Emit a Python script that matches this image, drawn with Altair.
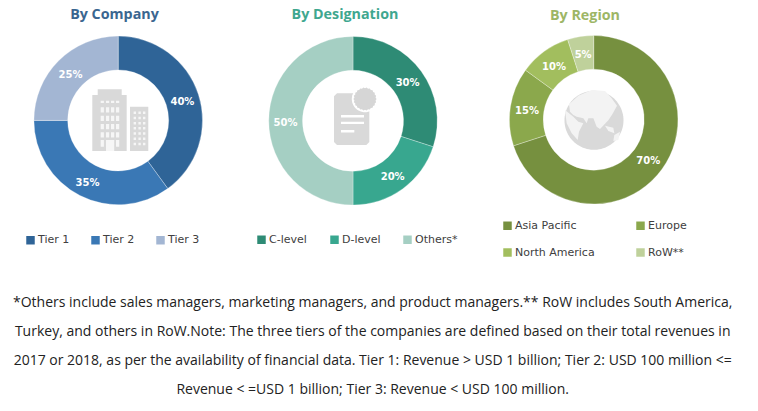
import math
import altair as alt
import pandas as pd

company_cat = ["Tier 1", "Tier 2", "Tier 3"]
company_val = [40, 35, 25]
company_col = ["#2F6497", "#3A78B5", "#A3B6D3"]
desig_cat = ["C-level", "D-level", "Others*"]
desig_val = [30, 20, 50]
desig_col = ["#2E8B75", "#38A78F", "#A5CFC3"]
region_cat = ["Asia Pacific", "Europe", "North America", "RoW**"]
region_val = [70, 15, 10, 5]
region_col = ["#76903F", "#8BA84C", "#A2BE5E", "#BFD19B"]
footer = [
    "*Others include sales managers, marketing managers, and product managers.** RoW includes South America,",
    "Turkey, and others in RoW.Note: The three tiers of the companies are defined based on their total revenues in",
    "2017 or 2018, as per the availability of financial data. Tier 1: Revenue > USD 1 billion; Tier 2: USD 100 million <=",
    "Revenue < =USD 1 billion; Tier 3: Revenue < USD 100 million.",
]
footer_y = [303, 332, 361, 390]
OX, OY = 8, 8
W, H = 742, 395


def donut(cats, vals, cols, cx, cy, lx, ly, columns, colpad, rowpad):
    df = pd.DataFrame({"c": cats, "v": vals, "o": range(len(cats)), "t": [f"{v}%" for v in vals]})
    base = alt.Chart(df).encode(
        x=alt.value(cx - OX), y=alt.value(cy - OY),
        theta=alt.Theta("v:Q", stack=True, scale=alt.Scale(domain=[0, 100], range=[0, 6.283185307])),
        order=alt.Order("o:Q"),
    )
    arc = base.mark_arc(outerRadius=84.3, innerRadius=50.5, stroke="#ffffff", strokeWidth=0.3).encode(
        color=alt.Color("c:N", sort=cats, scale=alt.Scale(domain=cats, range=cols), legend=alt.Legend(
            title=None, orient="none", direction="horizontal", legendX=lx - OX, legendY=ly - OY, columns=columns,
            symbolType="square", symbolSize=72, symbolStrokeWidth=0, labelFont="DejaVu Sans", labelFontSize=11,
            labelColor="#404040", columnPadding=colpad, rowPadding=rowpad, gridAlign="all", labelOffset=2,
            padding=0))
    )
    txt = base.mark_text(radius=67.5, dy=2, font="DejaVu Sans", fontSize=10, fontWeight="bold", color="#ffffff").encode(text="t:N")
    return arc, txt


def label(text, x, y, color, size, font, weight="normal"):
    return alt.Chart(pd.DataFrame({"t": [text]})).mark_text(
        font=font, fontSize=size, fontWeight=weight, color=color, align="center", baseline="middle"
    ).encode(x=alt.value(x - OX), y=alt.value(y - OY), text="t:N")


S = 30.0  # icon path unit: one unit is 30 screen pixels at size 3600


def icon(path, cx, cy, color):
    return alt.Chart(pd.DataFrame({"a": [0]})).mark_point(
        shape=path, size=3600, filled=True, fill=color, strokeWidth=0, opacity=1
    ).encode(x=alt.value(cx - OX), y=alt.value(cy - OY))


def rect(cx, cy, x0, y0, x1, y1):
    a, b, c, d = [round(v, 3) for v in ((x0 - cx) / S, (y0 - cy) / S, (x1 - cx) / S, (y1 - cy) / S)]
    return f"M{a} {b}L{c} {b}L{c} {d}L{a} {d}Z"


def poly(cx, cy, pts):
    return "M" + "L".join(f"{round((x - cx) / S, 3)} {round((y - cy) / S, 3)}" for x, y in pts) + "Z"


def seal_path(cx, cy, x, y, rad, teeth=22):
    pts = []
    for i in range(teeth * 2):
        a = math.pi * i / teeth
        rr = rad if i % 2 == 0 else rad * 0.92
        pts.append((x + rr * math.cos(a), y + rr * math.sin(a)))
    return poly(cx, cy, pts)


def circle(cx, cy, x, y, rad):
    return poly(cx, cy, [(x + rad * math.cos(i * math.pi / 45), y + rad * math.sin(i * math.pi / 45)) for i in range(90)])


# Building icon
BX, BY = 120, 120
building = rect(BX, BY, 92.3, 95, 126.7, 151) + rect(BX, BY, 97.7, 89.3, 121.7, 95.5) + rect(BX, BY, 130, 106.7, 148.3, 151)
windows = ""
for x0 in (100.7, 106, 111, 116):
    windows += rect(BX, BY, x0, 100.7, x0 + 3.2, 102.9)
    for y0 in (107.3, 115.7, 124, 132.3):
        windows += rect(BX, BY, x0, y0, x0 + 3.2, y0 + 5.2)
for x0 in (100.7, 116):
    windows += rect(BX, BY, x0, 140, x0 + 3.2, 146.7)
windows += rect(BX, BY, 106, 140, 114.2, 151)
for i in range(7):
    for x0 in (133.6, 138.4, 143):
        windows += rect(BX, BY, x0, 111.5 + i * 5.2, x0 + 2.4, 114 + i * 5.2)

# Document icon
DX, DY = 352, 120
doc = poly(DX, DY, [(337, 93.3), (366, 93.3), (369.3, 96.3), (369.3, 142), (366.3, 145), (337, 145), (334, 142), (334, 96.3)])
doc_lines = rect(DX, DY, 341, 115, 364, 117.4) + rect(DX, DY, 341, 121.7, 364, 124.1) + rect(DX, DY, 341, 130, 354.3, 132.6)
seal_bg = circle(DX, DY, 365, 99, 13.2)
seal = seal_path(DX, DY, 365, 99, 11.6)

# Globe icon
GX, GY = 594, 120


def gz(pts):
    return [(555 + x / 3, 85 + y / 3) for x, y in pts]


globe = circle(GX, GY, 594, 120.3, 29.5)
land = (
    poly(GX, GY, gz([(42, 58), (70, 32), (110, 15), (150, 18), (170, 40), (186, 62), (172, 88), (160, 106), (150, 116), (135, 132),
                     (125, 125), (115, 100), (100, 100), (95, 115), (85, 100), (65, 95), (55, 90), (45, 80)]))
    + poly(GX, GY, gz([(30, 75), (55, 95), (70, 110), (85, 115), (72, 140), (68, 165), (50, 145), (35, 115)]))
    + poly(GX, GY, gz([(150, 122), (175, 128), (178, 145), (160, 138)]))
    + poly(GX, GY, gz([(178, 150), (195, 140), (190, 165), (175, 168)]))
)

c1 = donut(company_cat, company_val, company_col, 118.2, 120.4, 25, 234.5, 3, 20, 0)
c2 = donut(desig_cat, desig_val, desig_col, 353, 120.8, 256, 234, 3, 17, 0)
c3 = donut(region_cat, region_val, region_col, 593.7, 119.7, 502, 220, 2, 40, 15)

layers = [
    c1[0], c2[0], c3[0], c1[1], c2[1], c3[1],
    label("By Company", 114.5, 15, "#3A6690", 14.3, "Open Sans", "bold"),
    label("By Designation", 345, 15, "#3FA78F", 14.3, "Open Sans", "bold"),
    label("By Region", 585, 16, "#9DB666", 14.3, "Open Sans", "bold"),
    icon(building, BX, BY, "#D9D9D9"),
    icon(windows, BX, BY, "#F6F6F6"),
    icon(doc, DX, DY, "#D9D9D9"),
    icon(doc_lines, DX, DY, "#FFFFFF"),
    icon(seal_bg, DX, DY, "#FFFFFF"),
    icon(seal, DX, DY, "#D6D6D6"),
    icon(globe, GX, GY, "#D9D9D9"),
    icon(land, GX, GY, "#F3F3F3"),
]
for line, y in zip(footer, footer_y):
    layers.append(label(line, 372.7, y, "#222222", 14, "Open Sans"))

chart = alt.layer(*layers).resolve_scale(color="independent", theta="independent").properties(
    width=W, height=H, padding=0, background="#ffffff", autosize=alt.AutoSizeParams(type="none")
).configure_view(stroke=None)

chart.save("out.html", embed_options={"renderer": "svg", "actions": False})
